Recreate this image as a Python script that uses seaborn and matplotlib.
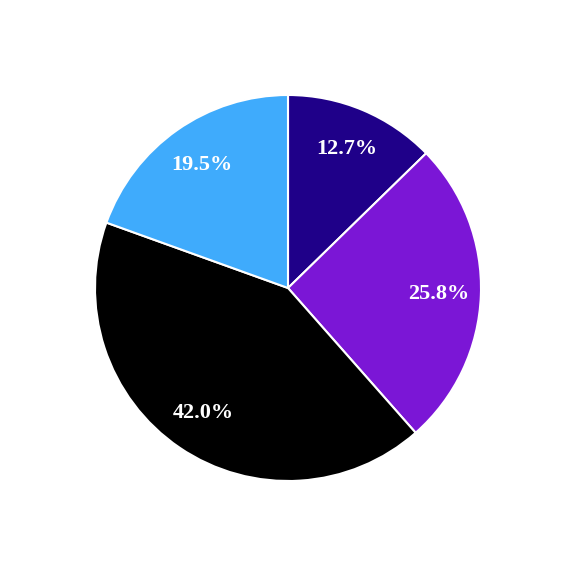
import matplotlib.pyplot as plt
import seaborn as sns

sns.set_theme(style="white")
plt.rcParams["font.family"] = ["Liberation Serif", "DejaVu Serif"]

shares = [12.7, 25.8, 42.0, 19.5]
colores = ["#1f0089", "#7b16d6", "#000000", "#3fabfc"]

fig = plt.figure(figsize=(5.76, 5.76), dpi=100)
ax = fig.add_axes([95 / 576, 95 / 576, 386 / 576, 386 / 576])

ax.pie(
    shares,
    colors=colores,
    startangle=90,
    counterclock=False,
    autopct="%.1f%%",
    pctdistance=0.78,
    wedgeprops={"edgecolor": "white", "linewidth": 1.5},
    textprops={"color": "white", "fontsize": 16, "fontweight": "bold"},
)
ax.set_xlim(-1, 1)
ax.set_ylim(-1, 1)
ax.set_aspect("equal")

plt.savefig("out.png", dpi=100)
